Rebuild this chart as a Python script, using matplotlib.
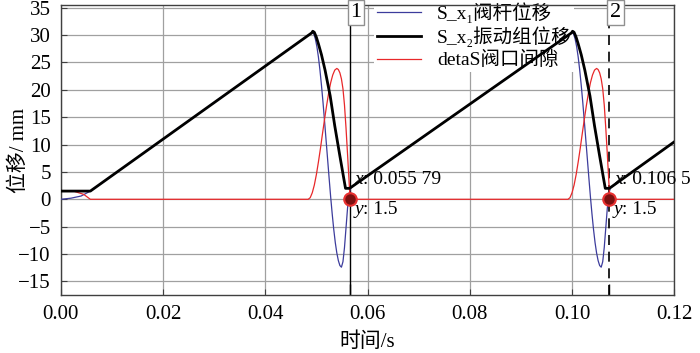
import matplotlib
matplotlib.use('Agg')
import matplotlib.pyplot as plt

plt.rcParams['font.family'] = ['Liberation Serif', 'Noto Sans CJK SC', 'DejaVu Sans']
plt.rcParams['axes.unicode_minus'] = True

# S_x2 振动组位移 (black)
t_black = ([0.0, 0.0058, 0.0491, 0.0493, 0.0496, 0.0500, 0.0504, 0.0510, 0.0517, 0.0527,
            0.0536, 0.0546, 0.0554, 0.0557, 0.0565]
           + [0.0999, 0.1001, 0.1004, 0.1008, 0.1012, 0.1018, 0.1025, 0.1035,
              0.1044, 0.1054, 0.1062, 0.1065, 0.1073, 0.1200])
y_black = ([1.5, 1.5, 30.4, 30.7, 30.5, 29.6, 28.4, 26.4, 23.6, 18.9,
            13.4, 7.9, 3.6, 2.0, 2.0]
           + [30.4, 30.7, 30.5, 29.6, 28.4, 26.4, 23.6, 18.9,
              13.4, 7.9, 3.6, 2.0, 2.0, 10.5])

# S_x1 阀杆位移 (blue)
t_blue = ([0.0, 0.002, 0.004, 0.0058, 0.0492, 0.0495, 0.0498, 0.0501, 0.0504, 0.0507,
           0.0510, 0.0513, 0.0516, 0.0519, 0.0522, 0.0525, 0.0528, 0.0531, 0.0534,
           0.0537, 0.0540, 0.0543, 0.0546, 0.0549, 0.0552, 0.0555, 0.0558, 0.0561,
           0.0564, 0.0567]
          + [0.1000, 0.1003, 0.1006, 0.1009, 0.1012, 0.1015, 0.1018, 0.1021, 0.1024,
             0.1027, 0.1030, 0.1033, 0.1036, 0.1039, 0.1042, 0.1045, 0.1048, 0.1051,
             0.1054, 0.1057, 0.1060, 0.1063, 0.1066, 0.1069, 0.1072, 0.1075, 0.1200])
y_blue = ([0.0, 0.2, 0.6, 1.5, 30.5, 30.2, 29.3, 27.9, 26.0, 23.6,
           20.8, 17.7, 14.3, 10.8, 7.3, 3.8, 0.4, -2.7, -5.5,
           -7.9, -9.8, -11.2, -12.1, -12.4, -11.4, -8.8, -5.2, -1.6,
           1.0, 2.1]
          + [30.5, 30.2, 29.3, 27.9, 26.0, 23.6, 20.8, 17.7, 14.3,
             10.8, 7.3, 3.8, 0.4, -2.7, -5.5, -7.9, -9.8, -11.2,
             -12.1, -12.4, -11.4, -8.8, -5.2, -1.6, 1.0, 2.1, 10.5])

# detaS 阀口间隙 (red)
t_red = ([0.0, 0.0025, 0.0045, 0.0058, 0.0484, 0.0488, 0.0492, 0.0496, 0.0500, 0.0504,
          0.0508, 0.0512, 0.0516, 0.0520, 0.0524, 0.0528, 0.0532, 0.0536, 0.0540,
          0.0543, 0.0546, 0.0549, 0.0552, 0.0555, 0.0558, 0.0561, 0.0564, 0.0566]
         + [0.0992, 0.0996, 0.1000, 0.1004, 0.1008, 0.1012, 0.1016, 0.1020, 0.1024,
            0.1028, 0.1032, 0.1036, 0.1040, 0.1044, 0.1048, 0.1051, 0.1054, 0.1057,
            0.1060, 0.1063, 0.1066, 0.1069, 0.1072, 0.1074, 0.1200])
y_red = ([1.5, 1.5, 0.9, 0.0, 0.0, 0.3, 1.2, 2.6, 4.5, 6.8,
          9.3, 12.0, 14.6, 17.1, 19.4, 21.3, 22.7, 23.6, 23.9,
          23.7, 23.1, 22.0, 20.2, 17.2, 13.0, 8.2, 3.2, 0.0]
         + [0.0, 0.3, 1.2, 2.6, 4.5, 6.8, 9.3, 12.0, 14.6,
            17.1, 19.4, 21.3, 22.7, 23.6, 23.9, 23.7, 23.1, 22.0,
            20.2, 17.2, 13.0, 8.2, 3.2, 0.0, 0.0])

cursor_t = [0.0565, 0.1073]
cursor_y = [0.0, 0.0]
cursor_x_text = ['0.055 79', '0.106 5']
cursor_y_text = ['1.5', '1.5']
cursor_ids = ['1', '2']

fig = plt.figure(figsize=(7.0, 3.53), dpi=100)
ax = fig.add_axes([0.0867, 0.164, 0.8766, 0.822])

ax.grid(True, color='#a0a0a0', lw=0.9)
ax.set_axisbelow(True)

l1, = ax.plot(t_blue, y_blue, color='#3c3c9c', lw=0.9, zorder=3, label='S_x\u2081阀杆位移')
l2, = ax.plot(t_black, y_black, color='black', lw=2.0, zorder=4, label='S_x\u2082振动组位移')
l3, = ax.plot(t_red, y_red, color='#e8282a', lw=0.9, zorder=3.5, label='detaS阀口间隙')

ax.axvline(cursor_t[0], color='black', lw=1.0, zorder=2.5)
ax.axvline(cursor_t[1], color='black', lw=1.2, ls=(0, (6, 4)), zorder=2.5)

ax.plot(cursor_t, cursor_y, 'o', ms=9, mfc='#7a1010', mec='#e83030', mew=1.5, zorder=6)

for t, xs, ys, cid in zip(cursor_t, cursor_x_text, cursor_y_text, cursor_ids):
    ax.text(t + 0.0009, 3.6, 'x', fontsize=14, style='italic', va='center', ha='left', zorder=7)
    ax.annotate(': ' + xs, xy=(t + 0.0009, 3.6), xytext=(6, 0), textcoords='offset points',
                fontsize=14, va='center', ha='left', zorder=7, annotation_clip=False)
    ax.text(t + 0.0009, -1.9, 'y', fontsize=14, style='italic', va='center', ha='left', zorder=7)
    ax.annotate(': ' + ys, xy=(t + 0.0009, -1.9), xytext=(6, 0), textcoords='offset points',
                fontsize=14, va='center', ha='left', zorder=7, annotation_clip=False)
    ax.text(t + 0.0012, 34.1, cid, fontsize=16, va='center', ha='center', zorder=7,
            bbox=dict(boxstyle='square,pad=0.12', fc='white', ec='#909090', lw=1.0))

ax.set_xlim(0, 0.12)
ax.set_ylim(-17.5, 35.5)
ax.set_xticks([0.00, 0.02, 0.04, 0.06, 0.08, 0.10, 0.12])
ax.set_xticklabels(['0.00', '0.02', '0.04', '0.06', '0.08', '0.10', '0.12'])
ax.set_yticks([-15, -10, -5, 0, 5, 10, 15, 20, 25, 30, 35])
ax.set_xticks(cursor_t, minor=True)
ax.tick_params(axis='both', which='major', direction='in', labelsize=15, length=4,
               color='#404040', pad=7)
ax.tick_params(axis='x', which='minor', direction='in', length=8, width=1.0, color='black')
for s in ax.spines.values():
    s.set_color('#404040')
    s.set_linewidth(1.0)

ax.set_xlabel('时间/s', fontsize=15, labelpad=6)
ax.set_ylabel('位移/ mm', fontsize=15)
ax.yaxis.set_label_coords(-0.052, 0.5)

leg = ax.legend(handles=[l1, l2, l3], loc='upper left', bbox_to_anchor=(0.51, 1.02),
                fontsize=14, frameon=True, fancybox=False, framealpha=1.0,
                edgecolor='none', borderaxespad=0, borderpad=0.15, labelspacing=0.2,
                handlelength=2.3, handletextpad=0.8)
leg.set_zorder(2)

fig.savefig('out.png', dpi=100)
